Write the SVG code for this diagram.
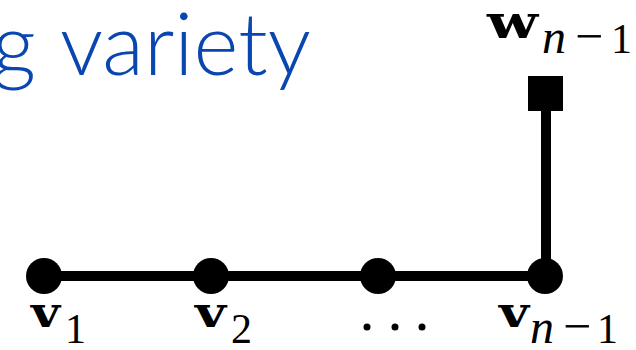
<svg xmlns="http://www.w3.org/2000/svg" width="636" height="350" viewBox="0 0 636 350">
<style>
.title{font-family:Lato,"Open Sans",sans-serif;font-weight:300;font-size:86px;fill:#0a46b0}
.b{font-family:"DejaVu Serif",serif;font-weight:bold;font-size:42px;fill:#000}
.s{font-family:"Liberation Serif",serif;font-size:42px;fill:#000}
.i{font-style:italic;font-size:48px}
.m{font-size:50px}
.edge{stroke:#000;stroke-width:10;fill:none}
.dot{fill:#000}
</style>
<rect width="636" height="350" fill="#fff"/>
<text class="title" y="75"><tspan x="-8">g</tspan><tspan x="60">variety</tspan></text>
<g id="connectors">
<line class="edge" x1="44" y1="276" x2="545" y2="276"/>
<line class="edge" x1="546" y1="276" x2="546" y2="100"/>
</g>
<g id="v1">
<circle class="dot" cx="44" cy="276" r="18"/>
<text class="b" x="31" y="327" textLength="29" lengthAdjust="spacingAndGlyphs">v</text><text class="s" x="65" y="343">1</text>
</g>
<g id="v2">
<circle class="dot" cx="211" cy="276" r="18"/>
<text class="b" x="195" y="327" textLength="31" lengthAdjust="spacingAndGlyphs">v</text><text class="s" x="231" y="343">2</text>
</g>
<g id="v3">
<circle class="dot" cx="378" cy="276" r="18"/>
<circle class="dot" cx="367" cy="327" r="3.5"/>
<circle class="dot" cx="395" cy="327" r="3.5"/>
<circle class="dot" cx="422" cy="327" r="3.5"/>
</g>
<g id="vn1">
<circle class="dot" cx="545" cy="276" r="18"/>
<text class="b" x="499" y="327" textLength="30" lengthAdjust="spacingAndGlyphs">v</text>
<text class="s" y="343"><tspan class="i" x="530">n</tspan><tspan class="m" x="563">−</tspan><tspan x="597">1</tspan></text>
</g>
<g id="wn1">
<rect class="dot" x="528" y="76" width="35" height="35"/>
<text class="b" x="487" y="38" textLength="51" lengthAdjust="spacingAndGlyphs" style="font-size:46px">w</text>
<text class="s" y="53"><tspan class="i" x="542">n</tspan><tspan class="m" x="575">−</tspan><tspan x="611">1</tspan></text>
</g>
</svg>
